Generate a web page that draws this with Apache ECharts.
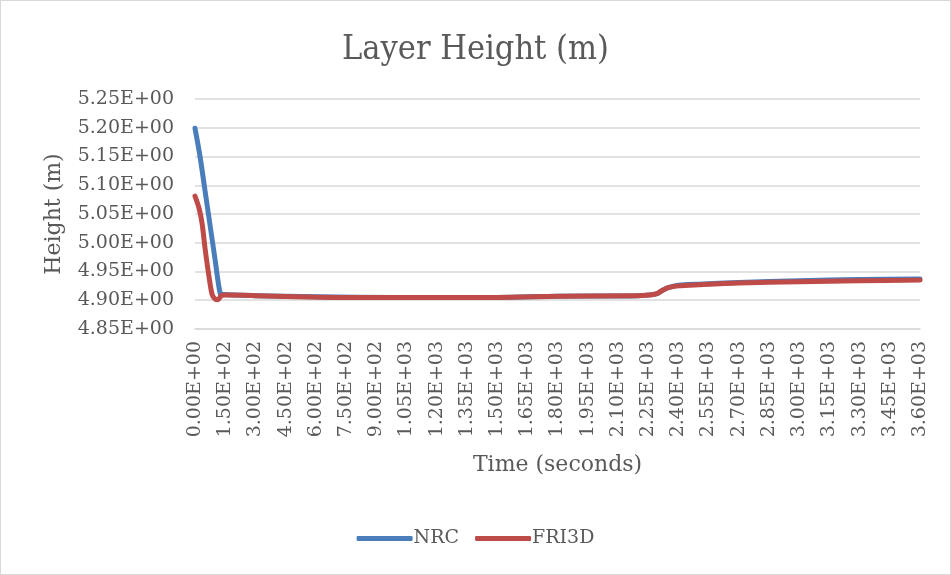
<!DOCTYPE html>
<html>
<head>
<meta charset="utf-8">
<script src="https://cdn.jsdelivr.net/npm/echarts@6/dist/echarts.min.js"></script>
<style>
html,body{margin:0;padding:0;background:#fff;}
#c{width:951px;height:575px;box-sizing:border-box;border:1px solid #d9d9d9;}
</style>
</head>
<body>
<div id="c"></div>
<script>
// Data
var timeNRC   = [0, 25, 50, 75, 100, 125, 140, 300, 600, 1000, 1500, 1800, 2200, 2290, 2320, 2350, 2400, 2500, 2700, 3000, 3300, 3600];
var heightNRC = [5.199, 5.15, 5.09, 5.03, 4.97, 4.912, 4.910, 4.908, 4.906, 4.905, 4.905, 4.907, 4.908, 4.911, 4.917, 4.922, 4.926, 4.928, 4.931, 4.934, 4.936, 4.937];
var timeFRI3D   = [0, 20, 35, 50, 70, 85, 100, 115, 130, 150, 300, 500, 700, 1000, 1500, 1800, 2200, 2250, 2290, 2320, 2350, 2400, 2500, 2700, 3000, 3300, 3600];
var heightFRI3D = [5.081, 5.06, 5.034, 4.99, 4.94, 4.91, 4.902, 4.901, 4.908, 4.909, 4.908, 4.906, 4.905, 4.905, 4.905, 4.907, 4.908, 4.909, 4.911, 4.917, 4.922, 4.925, 4.927, 4.930, 4.932, 4.934, 4.935];
var seriesNames = ['NRC', 'FRI3D'];
var xMin = 0, xMax = 3600, xStep = 150;
var yMin = 4.85, yMax = 5.25, yStep = 0.05;

function sci(v) {
  var s = Number(v).toExponential(2).toUpperCase();
  return s.replace(/E([+-])(\d)$/, 'E$10$2');
}
function pairs(t, h) { return t.map(function (x, i) { return [x, h[i]]; }); }

var FONT = 'DejaVu Serif';
var FONTC = '"DejaVu Serif Condensed", "DejaVu Serif"';
var GREY = '#595959';
var chart = echarts.init(document.getElementById('c'));
chart.setOption({
  animation: false,
  backgroundColor: 'transparent',
  title: {
    text: 'Layer Height (m)', left: 'center', top: 27,
    textStyle: { fontFamily: FONTC, fontSize: 34, fontWeight: 'normal', color: GREY }
  },
  legend: {
    data: seriesNames, bottom: 21, left: 'center', icon: 'roundRect',
    itemWidth: 56, itemHeight: 5, itemGap: 16,
    textStyle: { fontFamily: FONT, fontSize: 19, color: GREY, padding: [0, 0, 0, -4] }
  },
  grid: { left: 194, right: 30, top: 98, bottom: 245 },
  xAxis: {
    type: 'value', min: xMin, max: xMax, interval: xStep,
    name: 'Time (seconds)', nameLocation: 'middle', nameGap: 125,
    nameTextStyle: { fontFamily: FONT, fontSize: 22, color: GREY },
    axisLine: { show: true, lineStyle: { color: '#d9d9d9', width: 1.5 } },
    axisTick: { show: false },
    splitLine: { show: false },
    axisLabel: { rotate: 90, formatter: sci, fontFamily: FONT, fontSize: 19, color: GREY, margin: 12 }
  },
  yAxis: {
    type: 'value', min: yMin, max: yMax, interval: yStep,
    name: 'Height (m)', nameLocation: 'middle', nameGap: 130, nameRotate: 90,
    nameTextStyle: { fontFamily: FONT, fontSize: 22, color: GREY },
    axisLine: { show: false }, axisTick: { show: false },
    splitLine: { lineStyle: { color: '#d9d9d9', width: 1.5 } },
    axisLabel: { formatter: sci, fontFamily: FONT, fontSize: 19, color: GREY, margin: 21 }
  },
  series: [
    { name: seriesNames[0], type: 'line', data: pairs(timeNRC, heightNRC), symbol: 'none', smooth: 0.3,
      lineStyle: { color: '#4a7ebb', width: 5, cap: 'round', join: 'round' }, itemStyle: { color: '#4a7ebb' } },
    { name: seriesNames[1], type: 'line', data: pairs(timeFRI3D, heightFRI3D), symbol: 'none', smooth: 0.3,
      lineStyle: { color: '#be4b48', width: 5, cap: 'round', join: 'round' }, itemStyle: { color: '#be4b48' } }
  ]
});
</script>
</body>
</html>
